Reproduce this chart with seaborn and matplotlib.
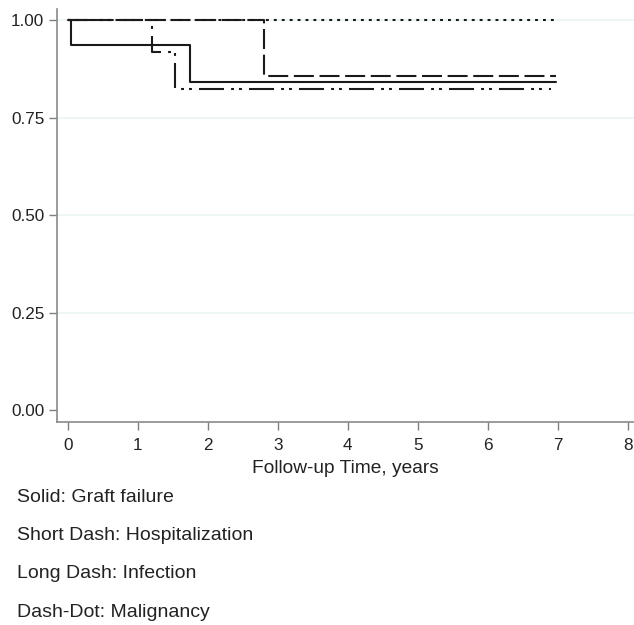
import pandas as pd
import seaborn as sns
import matplotlib.pyplot as plt

# step curves (time in years, survival)
graft_t = [0.0, 0.04, 1.75, 6.97]
graft_s = [1.0, 0.937, 0.840, 0.840]
hosp_t = [0.0, 6.98]
hosp_s = [1.0, 1.0]
infect_t = [0.0, 2.8, 6.98]
infect_s = [1.0, 0.857, 0.857]
malig_t = [0.0, 1.2, 1.53, 6.9]
malig_s = [1.0, 0.918, 0.824, 0.824]

events = ["Graft failure", "Hospitalization", "Infection", "Malignancy"]
legend_lines = ["Solid: Graft failure", "Short Dash: Hospitalization",
                "Long Dash: Infection", "Dash-Dot: Malignancy"]
x_ticks = [0, 1, 2, 3, 4, 5, 6, 7, 8]
y_ticks = [0.0, 0.25, 0.5, 0.75, 1.0]

frames = []
for name, t, s in zip(events, [graft_t, hosp_t, infect_t, malig_t],
                      [graft_s, hosp_s, infect_s, malig_s]):
    frames.append(pd.DataFrame({"time": t, "surv": s, "event": name}))
data = pd.concat(frames, ignore_index=True)

sns.set_style("white")
plt.rcParams['font.family'] = ['Liberation Sans', 'DejaVu Sans']

fig = plt.figure(figsize=(6.34, 6.25), dpi=100)
ax = fig.add_axes([0.0895, 0.3253, 0.9105, 0.6598])

dashes = {"Graft failure": "", "Hospitalization": (1.4, 2.4),
          "Infection": (9.6, 2.7), "Malignancy": (12, 3.4, 1.4, 2.4, 1.4, 3.4)}

for y in [0.25, 0.5, 0.75, 1.0]:
    ax.axhline(y, color="#eaf2f3", lw=1.1, zorder=0)

sns.lineplot(data=data, x="time", y="surv", style="event", style_order=events,
             dashes=dashes, color="#1a1a1a", linewidth=1.5, estimator=None,
             drawstyle="steps-post", legend=False, ax=ax)

ax.set_xlim(-0.16, 8.09)
ax.set_ylim(-0.029, 1.0274)
ax.set_xticks(x_ticks)
ax.set_yticks(y_ticks)
ax.set_yticklabels([f"{v:.2f}" for v in y_ticks])
ax.tick_params(axis="both", length=6, width=1, color="#7f7f7f",
               labelcolor="#222222", labelsize=12.3, direction="out",
               bottom=True, left=True, pad=3)
ax.tick_params(axis="x", pad=6)
for side in ["top", "right"]:
    ax.spines[side].set_visible(False)
for side in ["left", "bottom"]:
    ax.spines[side].set_color("#8a8a8a")
    ax.spines[side].set_linewidth(1.2)

ax.set_xlabel("Follow-up Time, years", fontsize=13.8, color="#222222", labelpad=5)
ax.set_ylabel("")

for i, line in enumerate(legend_lines):
    fig.text(17 / 634, 1 - (497 + 38.5 * i) / 625, line, fontsize=14,
             color="#222222", va="center", ha="left")

fig.savefig("out.png", dpi=100)
